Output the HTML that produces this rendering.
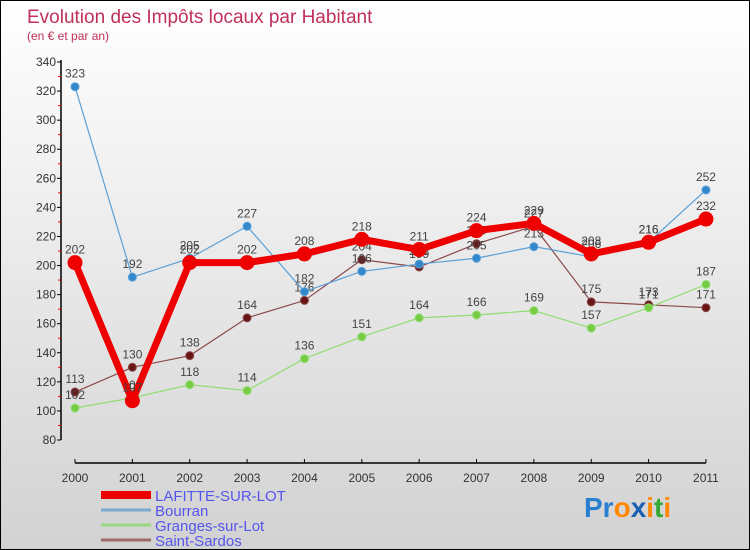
<!DOCTYPE html>
<html><head><meta charset="utf-8"><style>
html,body{margin:0;padding:0}
#c{width:748px;height:548px;border:1px solid #000;background:linear-gradient(#fff,#d2d2d2);position:relative;overflow:hidden;font-family:"Liberation Sans",sans-serif}
</style></head><body>
<div id="c">
<svg id="s" width="748" height="548" xmlns="http://www.w3.org/2000/svg">
<text x="26" y="22" font-size="19" fill="#c0305a">Evolution des Impôts locaux par Habitant</text>
<text x="26" y="39" font-size="12" fill="#c0305a">(en € et par an)</text>
<g id="axes"></g><g id="series"></g><g id="legend"></g>
<text x="583" y="516" font-size="28" font-weight="bold"><tspan fill="#2a7fd0">Pr</tspan><tspan fill="#ff8800">o</tspan><tspan fill="#1a5fb0">x</tspan><tspan fill="#ff8800">i</tspan><tspan fill="#33aa33">t</tspan><tspan fill="#ff8800">i</tspan></text>
</svg></div>
<script>
const years=["2000","2001","2002","2003","2004","2005","2006","2007","2008","2009","2010","2011"];
const lafitte=[202,107,202,202,208,218,211,224,229,208,216,232];
const bourran=[323,192,205,227,182,196,201,205,213,206,216,252];
const granges=[102,109,118,114,136,151,164,166,169,157,171,187];
const sardos=[113,130,138,164,176,204,199,215,227,175,173,171];
const yTicks=[80,100,120,140,160,180,200,220,240,260,280,300,320,340];
const NS="http://www.w3.org/2000/svg";
const x=i=>74+i*57.36;
const y=v=>439-(v-80)*(378/260);
function mk(t,a,p){const e=document.createElementNS(NS,t);for(const k in a)e.setAttribute(k,a[k]);(p||document.getElementById('s')).appendChild(e);return e;}
const ax=document.getElementById('axes');
let e=mk('line',{x1:60,y1:y(340)-2,x2:60,y2:y(80),stroke:'#000','stroke-width':1.5},ax);

yTicks.forEach((v,i)=>{
 mk('line',{x1:56,x2:60,y1:y(v),y2:y(v),stroke:'#000'},ax);
 if(i<yTicks.length-1)mk('line',{x1:57,x2:60,y1:y(v+10),y2:y(v+10),stroke:'#e00'},ax);
 const t=mk('text',{x:55,y:y(v)+4,'font-size':12,'text-anchor':'end',fill:'#333'},ax);t.textContent=v;
 
});
e=mk('line',{x1:x(0),y1:462,x2:x(11),y2:462,stroke:'#000','stroke-width':1.5},ax);

years.forEach((yr,i)=>{
 mk('line',{x1:x(i),x2:x(i),y1:458,y2:462,stroke:'#000'},ax);
 const t=mk('text',{x:x(i),y:481,'font-size':12,'text-anchor':'middle',fill:'#333'},ax);t.textContent=yr;
 
});
const sg=document.getElementById('series');
function series(name,data,col,dot,w,r){
 const g=mk('g',{},sg);
 
 const l=mk('polyline',{points:data.map((v,i)=>x(i)+','+y(v)).join(' '),fill:'none',stroke:col,'stroke-width':w,'stroke-linejoin':'round'},g);
 
 data.forEach((v,i)=>{
  const c=mk('circle',{cx:x(i),cy:y(v),r:r,fill:dot,stroke:col,'stroke-width':1},g);
  
  const t=mk('text',{x:x(i),y:y(v)-9,'font-size':12,'text-anchor':'middle',fill:'#444'},g);t.textContent=v;
  
 });
}
series('saint-sardos',sardos,'#8b4a4a','#6a1515',1.2,4);
series('granges',granges,'#90dd70','#77cc44',1.2,4);
series('bourran',bourran,'#5aa0d8','#3388cc',1.2,4);
series('lafitte',lafitte,'#ee0000','#ee0000',7,7);
const lg=document.getElementById('legend');
const names=["LAFITTE-SUR-LOT","Bourran","Granges-sur-Lot","Saint-Sardos"];
const cols=['#ee0000','#7aaad0','#9ad880','#a06a6a'];
const ws=[8,3,3,3];
names.forEach((n,i)=>{
 const yy=494+i*15;
 const l=mk('line',{x1:100,x2:150,y1:yy,y2:yy,stroke:cols[i],'stroke-width':ws[i]},lg);
 
 const t=mk('text',{x:154,y:yy+6,'font-size':15,fill:'#5555ee'},lg);t.textContent=n;
 
});
</script>
</body></html>
